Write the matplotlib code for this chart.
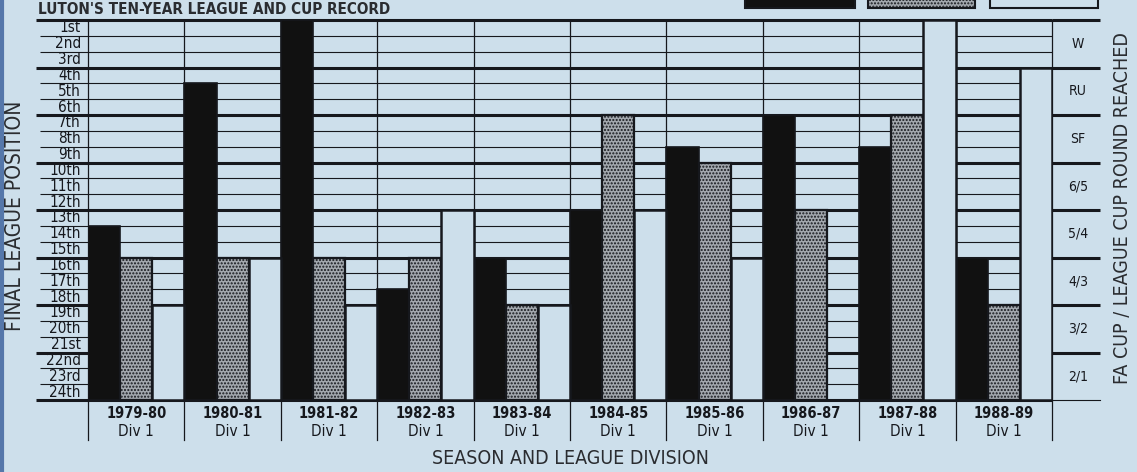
import numpy as np
import matplotlib
matplotlib.use('Agg')
import matplotlib.pyplot as plt
from matplotlib import font_manager as fm
from matplotlib.patches import Rectangle

### data
seasons = ['1979-80', '1980-81', '1981-82', '1982-83', '1983-84',
           '1984-85', '1985-86', '1986-87', '1987-88', '1988-89']
divisions = ['Div 1'] * 10
league_pos = [14, 5, 1, 18, 16, 13, 9, 7, 9, 16]
pos_labels = ['1st', '2nd', '3rd', '4th', '5th', '6th', '7th', '8th', '9th', '10th',
              '11th', '12th', '13th', '14th', '15th', '16th', '17th', '18th', '19th',
              '20th', '21st', '22nd', '23rd', '24th']
cup_rounds = ['2/1', '3/2', '4/3', '5/4', '6/5', 'SF', 'RU', 'W']
fa_cup = ['4/3', '4/3', '4/3', '4/3', '3/2', 'SF', '6/5', '5/4', 'SF', '3/2']
league_cup = ['3/2', '4/3', '3/2', '5/4', '3/2', '5/4', '4/3', None, 'W', 'RU']
title = "LUTON'S TEN-YEAR LEAGUE AND CUP RECORD"

### fonts
names = {f.name for f in fm.fontManager.ttflist}
if 'Liberation Sans Narrow' in names:
    narrow, stretch = 'Liberation Sans Narrow', 'normal'
else:
    narrow, stretch = 'DejaVu Sans', 'condensed'
plt.rcParams['font.family'] = [narrow, 'DejaVu Sans']
plt.rcParams['font.stretch'] = stretch
plt.rcParams['hatch.color'] = '#4a4e55'

bg = '#cddfeb'
ink = '#16181d'
grey = '#a3a8ae'
W, H = 1137, 472
fig = plt.figure(figsize=(W / 100, H / 100), dpi=100, facecolor=bg)
ax = fig.add_axes([88 / W, 72 / H, 964 / W, 380 / H])
ax.set_xlim(0, 10)
ax.set_ylim(0, 24)
ax.axis('off')
n = len(seasons)
colw = 964 / n          # px per season
rowh = 380 / 24         # px per league place
right_ext = 10 + 48 / colw

### horizontal grid
for k in range(25):
    thick = (k % 3 == 0)
    x0 = -52 / colw if thick else -48 / colw
    ax.plot([x0, 10], [k, k], color=ink, lw=2.2 if thick else 0.8,
            zorder=1, clip_on=False, solid_capstyle='butt')
    if thick and k > 0:
        ax.plot([10, right_ext], [k, k], color=ink, lw=2.2, zorder=1,
                clip_on=False, solid_capstyle='butt')
ax.plot([10, right_ext], [0, 0], color=ink, lw=0.8, zorder=1, clip_on=False)

### vertical grid
for i in range(n + 1):
    ax.plot([i, i], [-40 / rowh, 24], color=ink, lw=0.9, zorder=1, clip_on=False)

### bars
bw = 1 / 3
x = np.arange(n)
league_h = [25 - p for p in league_pos]
fa_h = [3 * (cup_rounds.index(r) + 1) for r in fa_cup]
lc_h = [3 * (cup_rounds.index(r) + 1) if r else 0 for r in league_cup]
ax.bar(x, league_h, width=bw, align='edge', color='#111111', edgecolor=ink,
       lw=1.2, zorder=3)
ax.bar(x + bw, fa_h, width=bw, align='edge', color=grey, edgecolor=ink,
       lw=1.6, hatch='.....', zorder=3)
for xi, h in zip(x, lc_h):
    if h > 0:
        ax.bar(xi + 2 * bw, h, width=bw, align='edge', color=bg, edgecolor=ink,
               lw=1.8, zorder=3)

### left labels
for k, lab in enumerate(pos_labels):
    ax.text(-7 / colw, 24 - k - 0.5, lab, ha='right', va='center', fontsize=11,
            color=ink, clip_on=False)
### right labels
for k, lab in enumerate(cup_rounds):
    ax.text(10 + 26 / colw, 3 * k + 1.5, lab, ha='center', va='center',
            fontsize=10, color=ink, clip_on=False)
### season labels
for i, (s, d) in enumerate(zip(seasons, divisions)):
    ax.text(i + 0.5, -13 / rowh, s, ha='center', va='center', fontsize=10.5,
            fontweight='bold', color=ink, clip_on=False)
    ax.text(i + 0.5, -32 / rowh, d, ha='center', va='center', fontsize=11,
            color=ink, clip_on=False)

fig.text(15 / W, 1 - 216 / H, 'FINAL LEAGUE POSITION', rotation=90, ha='center',
         va='center', fontsize=15, color='#2a2c30')
fig.text(1122 / W, 1 - 208 / H, 'FA CUP / LEAGUE CUP ROUND REACHED', rotation=90,
         ha='center', va='center', fontsize=14, color='#2a2c30')
fig.text(570 / W, 1 - 459 / H, 'SEASON AND LEAGUE DIVISION', ha='center',
         va='center', fontsize=14, color='#2a2c30')

### title and legend boxes at the top edge
fig.text(38 / W, 1 - 14 / H, title, ha='left', va='baseline', fontsize=11,
         fontweight='bold', color='#2a2c30')
for x0, x1, fc in [(745, 855, '#111111'), (868, 975, grey), (990, 1098, bg)]:
    fig.patches.append(Rectangle((x0 / W, 1 - 8 / H), (x1 - x0) / W, 30 / H,
                                 transform=fig.transFigure, facecolor=fc,
                                 edgecolor=ink, lw=1.5,
                                 hatch='.....' if fc == grey else None))
fig.add_artist(plt.Line2D([2 / W, 2 / W], [0, 1], color='#5577aa', lw=3,
                          transform=fig.transFigure))

plt.savefig('out.png', dpi=100, facecolor=bg)
